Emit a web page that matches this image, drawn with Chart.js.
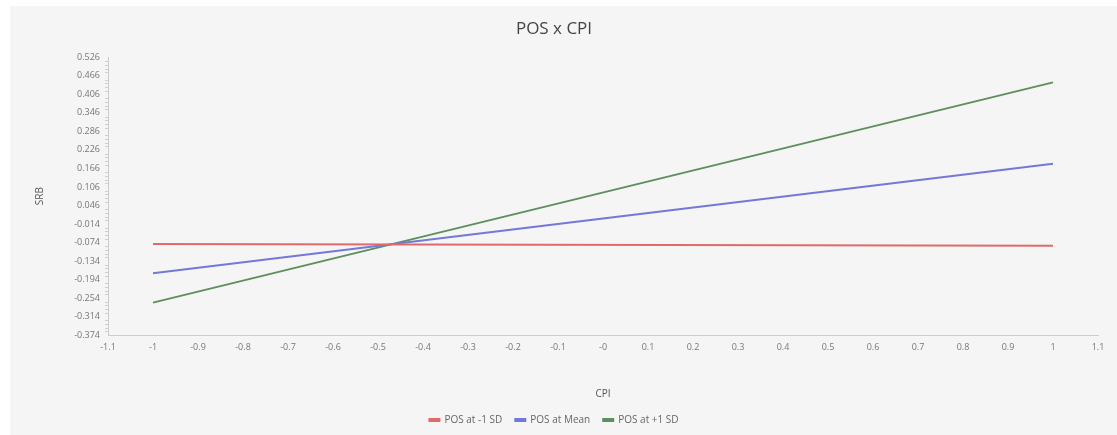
<!DOCTYPE html>
<html>
<head>
<meta charset="utf-8">
<script src="https://cdn.jsdelivr.net/npm/chart.js@4.4.1/dist/chart.umd.min.js"></script>
<style>
  html, body { margin: 0; padding: 0; background: #ffffff; }
  #wrap { position: absolute; left: 10px; top: 6px; width: 1107px; height: 429px; background: #f5f5f5; }
</style>
</head>
<body>
<div id="wrap"><canvas id="chart" width="1107" height="429"></canvas></div>
<script>
// CPI range of the lines
const cpiValues = [-1, 1];

// SRB values at each end of the line
const lowSD = [-0.079, -0.085];
const meanSD = [-0.174, 0.181];
const highSD = [-0.269, 0.445];

const seriesNames = ['POS at -1 SD', 'POS at Mean', 'POS at +1 SD'];
const seriesColors = ['#e06a6a', '#7478d6', '#5e8f5e'];

// axis ticks as shown in the picture
const xTicks = [-1.1, -1, -0.9, -0.8, -0.7, -0.6, -0.5, -0.4, -0.3, -0.2, -0.1, 0,
  0.1, 0.2, 0.3, 0.4, 0.5, 0.6, 0.7, 0.8, 0.9, 1, 1.1];
const xTickLabels = ['-1.1', '-1', '-0.9', '-0.8', '-0.7', '-0.6', '-0.5', '-0.4', '-0.3', '-0.2', '-0.1', '-0',
  '0.1', '0.2', '0.3', '0.4', '0.5', '0.6', '0.7', '0.8', '0.9', '1', '1.1'];
const yTicks = [0.526, 0.466, 0.406, 0.346, 0.286, 0.226, 0.166, 0.106, 0.046,
  -0.014, -0.074, -0.134, -0.194, -0.254, -0.314, -0.374];

function points(ys) {
  return cpiValues.map((x, i) => ({ x: x, y: ys[i] }));
}

// small ticks between the y labels
const minorTicks = {
  id: 'minorTicks',
  afterDraw(chart) {
    const y = chart.scales.y;
    const ctx = chart.ctx;
    ctx.save();
    ctx.strokeStyle = '#cfcfcf';
    ctx.lineWidth = 1;
    for (let i = 0; i < yTicks.length - 1; i++) {
      const step = (yTicks[i + 1] - yTicks[i]) / 5;
      for (let k = 1; k < 5; k++) {
        const py = Math.round(y.getPixelForValue(yTicks[i] + step * k)) + 0.5;
        ctx.beginPath();
        ctx.moveTo(y.right - 3, py);
        ctx.lineTo(y.right, py);
        ctx.stroke();
      }
    }
    ctx.restore();
  }
};

const tickFont = { family: 'Open Sans', size: 9 };

new Chart(document.getElementById('chart'), {
  type: 'scatter',
  data: {
    datasets: [lowSD, meanSD, highSD].map((vals, i) => ({
      label: seriesNames[i],
      data: points(vals),
      showLine: true,
      borderColor: seriesColors[i],
      backgroundColor: seriesColors[i],
      borderWidth: 2,
      pointRadius: 0
    }))
  },
  options: {
    responsive: false,
    animation: false,
    layout: { padding: { left: 0, right: 19, top: 0, bottom: 0 } },
    plugins: {
      title: {
        display: true,
        text: 'POS x CPI',
        color: '#444444',
        font: { family: 'Open Sans', size: 17, weight: 'normal' },
        padding: { top: 13, bottom: 18 }
      },
      legend: {
        position: 'bottom',
        labels: {
          color: '#666666',
          font: { family: 'Open Sans', size: 10 },
          boxWidth: 10,
          boxHeight: 2,
          padding: 13
        }
      },
      tooltip: { enabled: false }
    },
    scales: {
      x: {
        type: 'linear',
        min: -1.1,
        max: 1.1,
        afterBuildTicks: s => { s.ticks = xTicks.map(v => ({ value: v })); },
        afterFit: s => { s.height = 67; },
        ticks: {
          color: '#777777',
          font: tickFont,
          maxRotation: 0,
          padding: 3,
          callback: (v, i) => xTickLabels[i]
        },
        grid: { display: false, drawTicks: true, tickLength: 4, color: '#cccccc' },
        border: { color: '#cccccc' },
        title: {
          display: true,
          text: 'CPI',
          color: '#555555',
          font: { family: 'Open Sans', size: 10 },
          padding: { top: 0, bottom: 2 }
        }
      },
      y: {
        min: -0.374,
        max: 0.526,
        afterBuildTicks: s => { s.ticks = yTicks.map(v => ({ value: v })); },
        afterFit: s => { s.width = 98; },
        ticks: {
          color: '#777777',
          font: tickFont,
          padding: 3,
          callback: v => v.toFixed(3)
        },
        grid: { display: false, drawTicks: true, tickLength: 5, color: '#cccccc' },
        border: { color: '#cccccc' },
        title: {
          display: true,
          text: 'SRB',
          color: '#555555',
          font: { family: 'Open Sans', size: 10 },
          padding: { top: 24, bottom: 0 }
        }
      }
    }
  },
  plugins: [minorTicks]
});
</script>
</body>
</html>
